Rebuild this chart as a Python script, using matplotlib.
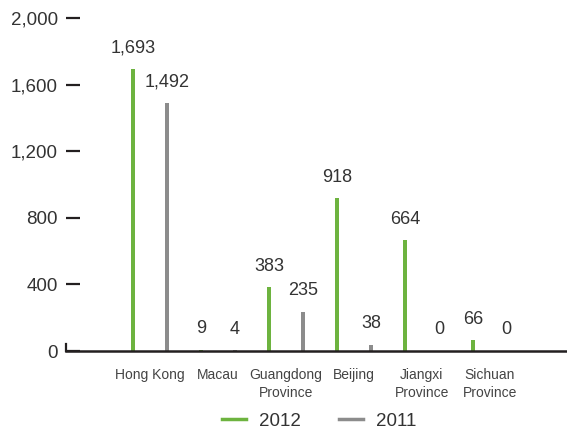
import numpy as np
import matplotlib.pyplot as plt
from matplotlib.lines import Line2D

categories = ['Hong Kong', 'Macau', 'Guangdong\nProvince', 'Beijing',
              'Jiangxi\nProvince', 'Sichuan\nProvince']
values_2012 = [1693, 9, 383, 918, 664, 66]
values_2011 = [1492, 4, 235, 38, 0, 0]
yticks = [0, 400, 800, 1200, 1600, 2000]

GREEN = '#6db33f'
GREY = '#8c8c8c'
DARK = '#231f20'
TEXT = '#333333'

plt.rcParams['font.family'] = ['Liberation Sans', 'DejaVu Sans']

fig = plt.figure(figsize=(5.67, 4.30), dpi=100)
ax = fig.add_axes([66 / 567, 79 / 430, (570 - 66) / 567, (351 - 18) / 430])

x = np.arange(len(categories))
w = 0.06
off = 0.25
ax.bar(x - off, values_2012, width=w, color=GREEN)
ax.bar(x + off, values_2011, width=w, color=GREY)

# value labels above bars
for xi, v in zip(x - off, values_2012):
    ax.annotate(f'{v:,}', (xi, v), xytext=(0, 9), textcoords='offset points',
                ha='center', va='bottom', fontsize=13, color=TEXT)
for xi, v in zip(x + off, values_2011):
    ax.annotate(f'{v:,}', (xi, v), xytext=(0, 9), textcoords='offset points',
                ha='center', va='bottom', fontsize=13, color=TEXT)

ax.set_xlim(-1.235, 6.18)
ax.set_ylim(0, 2000)

ax.set_yticks(yticks)
ax.set_yticklabels([f'{t:,}' for t in yticks])
ax.tick_params(axis='y', direction='in', length=10, width=1.6, color=DARK,
               labelsize=13.5, labelcolor=TEXT, pad=6)
ax.set_xticks(x)
ax.set_xticklabels(categories, va='top', ha='center', linespacing=1.35)
ax.tick_params(axis='x', length=0, pad=12, labelsize=10, labelcolor='#444444')

for s in ['top', 'right']:
    ax.spines[s].set_visible(False)
ax.spines['bottom'].set_color(DARK)
ax.spines['bottom'].set_linewidth(1.8)
ax.spines['left'].set_color(DARK)
ax.spines['left'].set_linewidth(1.6)
ax.spines['left'].set_bounds(0, 40)

handles = [Line2D([], [], color=GREEN, lw=2.5), Line2D([], [], color=GREY, lw=2.5)]
fig.legend(handles, ['2012', '2011'], loc='center', bbox_to_anchor=(319 / 567, 1 - 421 / 430),
           ncol=2, frameon=False, fontsize=13.5, handlelength=1.3, columnspacing=2.0,
           handletextpad=0.7, labelcolor=TEXT)

fig.savefig('out.png', dpi=100)
